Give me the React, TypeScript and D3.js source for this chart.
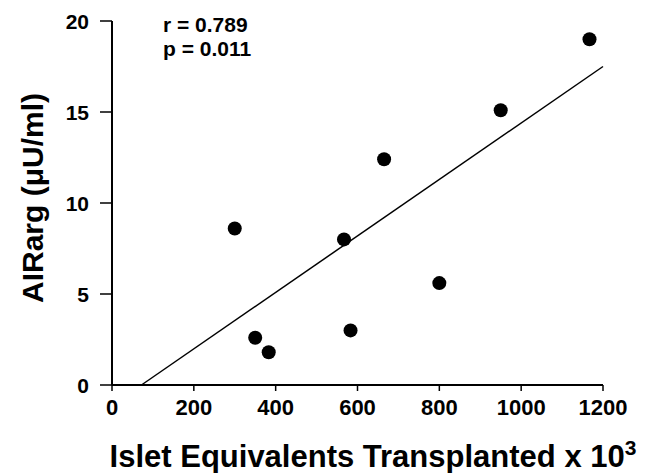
import React from "react";
import * as d3 from "d3";

const xValues = [300, 350, 383, 567, 583, 665, 800, 950, 1167];
const yValues = [8.6, 2.6, 1.8, 8.0, 3.0, 12.4, 5.6, 15.1, 19.0];
const fitX = [72, 1200];
const fitY = [0, 17.5];
const xTicks = [0, 200, 400, 600, 800, 1000, 1200];
const yTicks = [0, 5, 10, 15, 20];
const statLines = ["r = 0.789", "p = 0.011"];

const W = 649;
const H = 473;
const FONT = "'Liberation Sans', Arial, sans-serif";

export default function App() {
  const x = d3.scaleLinear().domain([0, 1200]).range([112, 603]);
  const y = d3.scaleLinear().domain([0, 20]).range([385, 21]);
  const line = d3
    .line<number>()
    .x((_, i) => x(fitX[i]))
    .y((d) => y(d));

  return (
    <svg
      width={W}
      height={H}
      style={{ position: "absolute", left: 0, top: 0, background: "#fff" }}
      fontFamily={FONT}
    >
      <rect width={W} height={H} fill="#fff" />
      {/* axes */}
      <line x1={x(0)} x2={x(0)} y1={y(20)} y2={y(0)} stroke="#000" strokeWidth={2} />
      <line x1={x(0)} x2={x(1200)} y1={y(0)} y2={y(0)} stroke="#000" strokeWidth={2} />
      {yTicks.map((t) => (
        <g key={"y" + t}>
          <line x1={x(0) - 12} x2={x(0)} y1={y(t)} y2={y(t)} stroke="#000" strokeWidth={1.5} />
          <text
            x={x(0) - 23}
            y={y(t)}
            dy="0.36em"
            textAnchor="end"
            fontSize={21}
            fontWeight="bold"
          >
            {t}
          </text>
        </g>
      ))}
      {xTicks.map((t) => (
        <g key={"x" + t}>
          <line x1={x(t)} x2={x(t)} y1={y(0)} y2={y(0) + 6} stroke="#000" strokeWidth={1.5} />
          <text x={x(t)} y={y(0) + 30} textAnchor="middle" fontSize={22} fontWeight="bold">
            {t}
          </text>
        </g>
      ))}
      {/* regression line */}
      <path d={line(fitY) || ""} fill="none" stroke="#000" strokeWidth={1.5} />
      {/* points */}
      {xValues.map((v, i) => (
        <circle key={i} cx={x(v)} cy={y(yValues[i])} r={7} fill="#000" />
      ))}
      {/* stats */}
      {statLines.map((s, i) => (
        <text key={s} x={163} y={32 + i * 24} fontSize={21} fontWeight="bold">
          {s}
        </text>
      ))}
      {/* axis titles */}
      <text
        transform={`translate(43, 198) rotate(-90)`}
        textAnchor="middle"
        fontSize={30}
        fontWeight="bold"
      >
        AIRarg (μU/ml)
      </text>
      <text x={373} y={467} textAnchor="middle" fontSize={31} fontWeight="bold">
        Islet Equivalents Transplanted x 10
        <tspan dy={-12} fontSize={21}>3</tspan>
      </text>
    </svg>
  );
}
